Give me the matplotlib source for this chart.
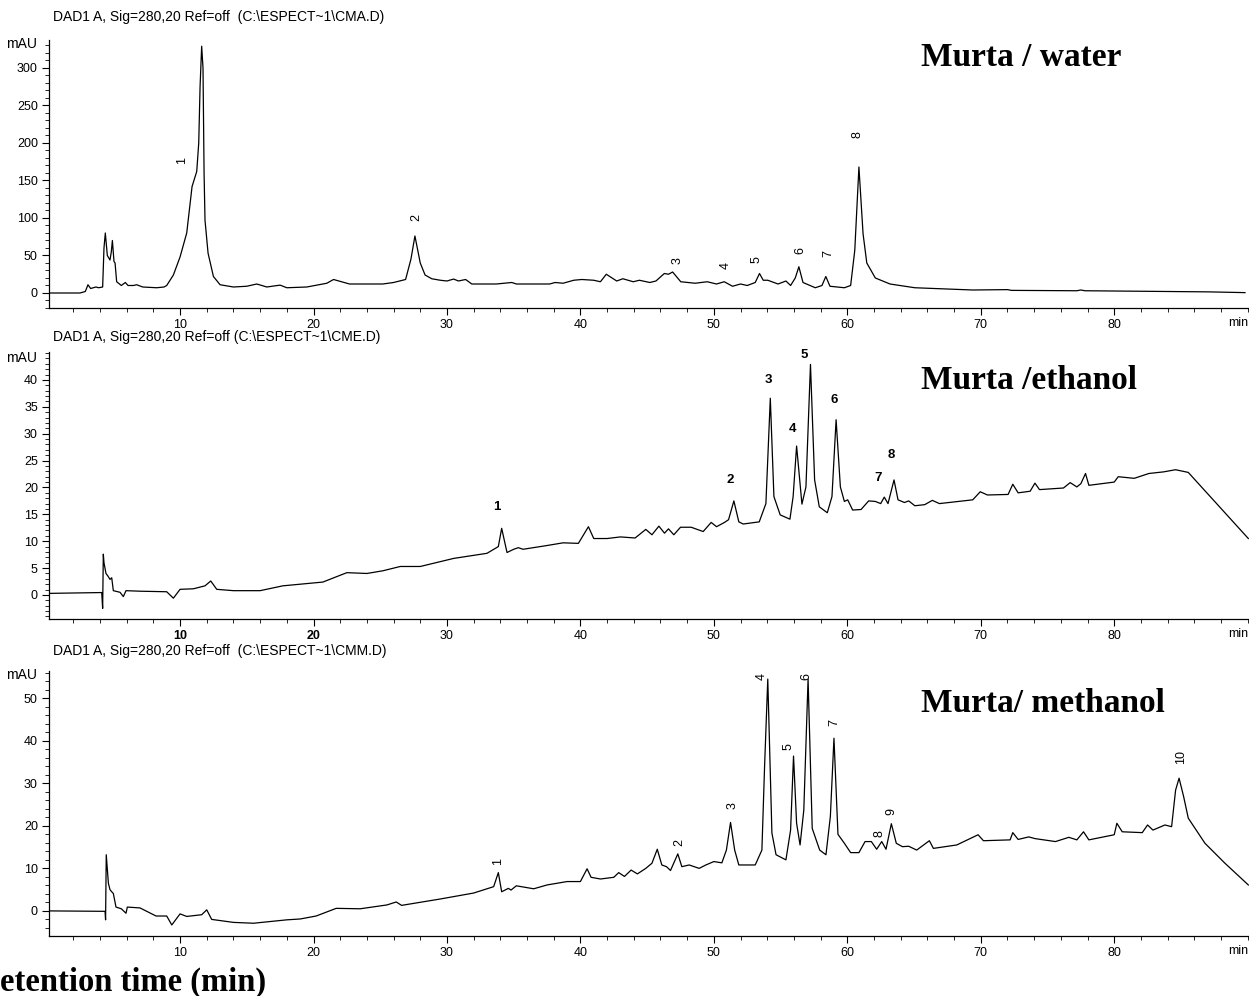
import matplotlib
matplotlib.use("Agg")
import matplotlib.pyplot as plt
from matplotlib.ticker import MultipleLocator, FixedLocator

plt.rcParams['font.family'] = ['Liberation Sans', 'DejaVu Sans']

# %% data (retention time in min, signal in mAU)
water_t = [0.25, 2.5, 2.9, 3.1, 3.3, 3.7, 3.9, 4.2, 4.3, 4.4, 4.55, 4.75, 4.85, 4.93, 5.05,
           5.13, 5.25, 5.6, 5.9, 6.1, 6.5, 6.75, 7.2, 8.25, 8.8, 9.0, 9.5, 10.0, 10.5, 10.9,
           11.25, 11.4, 11.5, 11.62, 11.72, 11.8, 11.87, 12.1, 12.5, 13.0, 14.0, 15.0, 15.75,
           16.5, 17.5, 18.0, 19.5, 21.0, 21.5, 22.7, 24.0, 25.2, 26.0, 26.9, 27.3, 27.6, 28.0,
           28.36, 28.86, 29.5, 30.0, 30.5, 30.86, 31.4, 31.86, 33.7, 34.86, 35.2, 37.7, 38.1,
           38.7, 39.5, 40.1, 41.0, 41.5, 41.94, 42.72, 43.18, 43.96, 44.42, 45.2, 45.66, 46.29,
           46.6, 46.91, 47.52, 48.6, 49.5, 50.2, 50.78, 51.4, 52.0, 52.5, 53.1, 53.42, 53.7,
           54.04, 54.81, 55.4, 55.75, 56.1, 56.37, 56.68, 57.6, 58.1, 58.39, 58.7, 59.78, 60.25,
           60.56, 60.87, 61.18, 61.46, 62.1, 63.2, 65.06, 69.4, 72.0, 72.3, 77.2, 77.5, 77.8,
           87.1, 89.8]
water_y = [0, 0, 2, 11, 6, 8, 7, 8, 60, 80, 50, 44, 55, 70, 42,
           40, 15, 10, 14, 10, 10, 11, 8, 7, 8, 10, 24, 48, 80, 142,
           162, 200, 275, 329, 300, 160, 97, 53, 22, 11, 8, 9, 12,
           8, 10.5, 7, 8, 13, 18, 12, 12, 12, 14, 18, 45, 76, 40,
           24, 19, 17, 16, 18.6, 16, 18, 12, 12, 14, 12, 12, 14,
           13, 17, 18, 17, 15, 25, 16, 19, 15, 17, 14, 16, 26,
           25, 28, 15, 13, 15, 12, 15, 9, 12, 10, 14, 26, 17,
           17, 12, 16, 10, 20, 35, 14, 7, 10, 22, 9, 7, 10,
           57, 168, 79, 40, 20, 12, 7, 4, 4.5, 3.5, 3, 4, 3,
           1.5, 0.5]

ethanol_t = [0.25, 4.13, 4.2, 4.25, 4.3, 4.45, 4.6, 4.75, 4.88, 5.0, 5.5, 5.75, 5.95, 7.0, 9.0,
             9.5, 10.0, 11.0, 11.87, 12.3, 12.75, 14.0, 16.0, 17.7, 20.7, 22.5, 24.0, 25.2, 26.5,
             28.0, 30.5, 33.0, 33.85, 34.1, 34.5, 35.0, 35.35, 35.7, 37.5, 38.7, 39.85, 40.6, 41.0,
             42.0, 43.0, 44.1, 44.9, 45.36, 45.88, 46.3, 46.6, 47.0, 47.5, 48.3, 49.2, 49.8, 50.2,
             50.8, 51.1, 51.5, 51.87, 52.2, 53.4, 53.9, 54.23, 54.5, 54.97, 55.7, 55.94, 56.2,
             56.6, 56.9, 57.24, 57.55, 57.9, 58.5, 58.85, 59.16, 59.48, 59.78, 60.03, 60.4, 61.03,
             61.6, 62.1, 62.5, 62.77, 63.05, 63.5, 63.8, 64.28, 64.6, 65.06, 65.8, 66.37, 66.9,
             69.4, 69.96, 70.5, 72.05, 72.4, 72.8, 73.7, 74.06, 74.4, 76.2, 76.7, 77.2, 77.5,
             77.85, 78.1, 80.0, 80.3, 81.5, 82.6, 83.7, 84.6, 85.55, 90.05]
ethanol_y = [0.3, 0.45, -2.5, 7.6, 6.0, 4.0, 3.5, 2.9, 3.2, 0.8, 0.5, -0.3, 0.8, 0.7, 0.6,
             -0.6, 1.05, 1.15, 1.7, 2.6, 1.05, 0.8, 0.8, 1.7, 2.4, 4.15, 4.0, 4.5, 5.3,
             5.3, 6.8, 7.75, 9.0, 12.4, 7.9, 8.5, 8.8, 8.5, 9.2, 9.7, 9.6, 12.7, 10.5,
             10.5, 10.8, 10.6, 12.2, 11.2, 12.8, 11.5, 12.3, 11.2, 12.6, 12.6, 11.8, 13.5, 12.7,
             13.5, 14, 17.5, 13.6, 13.2, 13.6, 17, 36.6, 18.3, 14.9, 14.1, 18.3, 27.7,
             16.9, 20.1, 42.9, 21.4, 16.4, 15.3, 18.3, 32.6, 20.1, 17.4, 17.7, 15.8, 15.9,
             17.5, 17.4, 17, 18.2, 17, 21.4, 17.7, 17.2, 17.5, 16.6, 16.8, 17.6, 17,
             17.7, 19.2, 18.6, 18.7, 20.6, 19, 19.3, 20.8, 19.6, 19.9, 20.9, 20.1, 20.7,
             22.6, 20.4, 21.0, 22, 21.7, 22.6, 22.9, 23.3, 22.8, 10.5]

methanol_t = [0.25, 4.38, 4.42, 4.47, 4.63, 4.75, 4.88, 5.0, 5.2, 5.6, 5.95, 6.05, 7.0, 8.2, 9.0,
              9.38, 10.0, 10.5, 11.62, 12.0, 12.37, 14.0, 15.5, 18.0, 19.0, 20.2, 21.7, 23.5,
              25.5, 26.2, 26.6, 29.5, 32.0, 33.5, 33.85, 34.1, 34.6, 34.8, 35.2, 36.5, 37.5, 39.0,
              40.0, 40.5, 40.8, 41.5, 42.5, 42.87, 43.3, 43.8, 44.27, 44.9, 45.36, 45.76, 46.1,
              46.45, 46.75, 47.3, 47.6, 48.15, 48.9, 49.4, 50.0, 50.6, 50.94, 51.25, 51.56, 51.87,
              53.1, 53.6, 53.8, 54.04, 54.35, 54.66, 55.4, 55.75, 55.97, 56.2, 56.46, 56.74, 57.06,
              57.37, 57.93, 58.4, 58.73, 59.0, 59.3, 59.78, 60.25, 60.87, 61.33, 61.8, 62.2, 62.58,
              62.9, 63.3, 63.67, 64.13, 64.6, 65.2, 66.15, 66.45, 68.2, 69.8, 70.2, 72.2, 72.4,
              72.8, 73.6, 74.06, 75.6, 76.6, 77.2, 77.7, 78.1, 80.0, 80.2, 80.6, 82.1, 82.5, 82.9,
              83.8, 84.3, 84.6, 84.86, 85.2, 85.55, 86.8, 88.3, 90.05]
methanol_y = [0, -0.1, -2.1, 13.2, 6.5, 5, 4.5, 4.1, 0.9, 0.5, -0.55, 0.9, 0.7, -1.2, -1.2,
              -3.3, -0.7, -1.3, -0.9, 0.25, -2.0, -2.7, -2.9, -2.1, -1.9, -1.2, 0.6, 0.5,
              1.4, 2.1, 1.3, 2.8, 4.2, 5.7, 9.0, 4.5, 5.3, 4.9, 5.9, 5.2, 6.1, 6.9,
              6.9, 9.9, 7.9, 7.5, 7.9, 9.0, 8.1, 9.6, 8.7, 10.0, 11.2, 14.5, 10.8,
              10.4, 9.5, 13.4, 10.4, 10.8, 10.0, 10.8, 11.6, 11.3, 14.3, 20.8, 14.3, 10.8,
              10.8, 14.3, 33.9, 54.5, 18.3, 13.2, 12.0, 19.0, 36.4, 20.6, 15.5, 23.7, 54.5,
              19.4, 14.3, 13.2, 22.2, 40.6, 18.0, 15.9, 13.7, 13.7, 16.3, 16.3, 14.5, 16.3,
              14.5, 20.5, 15.9, 15.1, 15.2, 14.3, 16.5, 14.7, 15.5, 17.9, 16.5, 16.7, 18.4,
              16.8, 17.4, 17.0, 16.3, 17.3, 16.7, 18.6, 16.7, 17.9, 20.6, 18.6, 18.4, 20.2, 19.0,
              20.2, 19.8, 28.4, 31.2, 26.9, 21.8, 15.9, 11.2, 6.1]

# peak numbers and where they were written
water_peak_labels = ['1', '2', '3', '4', '5', '6', '7', '8']
water_peak_t = [10.15, 27.7, 47.3, 50.9, 53.2, 56.5, 58.6, 60.8]
water_peak_y = [177, 100, 43, 36, 45, 57, 53, 211]

ethanol_peak_labels = ['1', '2', '3', '4', '5', '6', '7', '8']
ethanol_peak_t = [33.76, 51.2, 54.1, 55.9, 56.8, 59.0, 62.3, 63.3]
ethanol_peak_y = [16.4, 21.4, 40.0, 30.9, 44.7, 36.3, 21.8, 26.0]

methanol_peak_labels = ['1', '2', '3', '4', '5', '6', '7', '8', '9', '10']
methanol_peak_t = [33.83, 47.4, 51.4, 53.6, 55.6, 56.9, 59.0, 62.4, 63.3, 85.0]
methanol_peak_y = [11.5, 16.0, 24.7, 55.0, 38.6, 55.0, 44.2, 18.3, 23.3, 36.2]

headers = ['DAD1 A, Sig=280,20 Ref=off  (C:\\ESPECT~1\\CMA.D)',
           'DAD1 A, Sig=280,20 Ref=off (C:\\ESPECT~1\\CME.D)',
           'DAD1 A, Sig=280,20 Ref=off  (C:\\ESPECT~1\\CMM.D)']
titles = ['Murta / water', 'Murta /ethanol', 'Murta/ methanol']
x_ticks = [10, 20, 30, 40, 50, 60, 70, 80]
water_yticks = [0, 50, 100, 150, 200, 250, 300]
ethanol_yticks = [0, 5, 10, 15, 20, 25, 30, 35, 40]
methanol_yticks = [0, 10, 20, 30, 40, 50]


# %%
W, H = 1249, 996
fig = plt.figure(figsize=(W / 100, H / 100), dpi=100)


def px_box(top, bottom, left=49, right=1249):
    return [left / W, 1 - bottom / H, (right - left) / W, (bottom - top) / H]


def setup(ax, ylim, yticks, minor):
    ax.set_xlim(0.18, 90.1)
    ax.set_ylim(*ylim)
    for s in ['top', 'right']:
        ax.spines[s].set_visible(False)
    for s in ['left', 'bottom']:
        ax.spines[s].set_linewidth(0.9)
    ax.set_xticks(x_ticks)
    ax.xaxis.set_minor_locator(MultipleLocator(2))
    ax.yaxis.set_major_locator(FixedLocator(yticks))
    ax.yaxis.set_minor_locator(MultipleLocator(minor))
    ax.tick_params(which='major', direction='out', length=5, width=0.8, labelsize=9, pad=3)
    ax.tick_params(which='minor', direction='out', length=3, width=0.6)
    ax.annotate('min', xy=(89.3, 0), xycoords=('data', 'axes fraction'),
                xytext=(0, -6.6), textcoords='offset points',
                ha='center', va='top', fontsize=9)


serif_bold = dict(family='Liberation Serif', weight='bold', fontsize=24)

# water
ax1 = fig.add_axes(px_box(40, 308))
setup(ax1, (-20, 337.3), water_yticks, 10)
ax1.plot(water_t, water_y, color='black', lw=0.9)
for lab, t, y in zip(water_peak_labels, water_peak_t, water_peak_y):
    ax1.text(t, y, lab, rotation=90, ha='center', va='center', fontsize=9)

# ethanol
ax2 = fig.add_axes(px_box(352, 619))
setup(ax2, (-4.47, 45.2), ethanol_yticks, 1)
ax2.plot(ethanol_t, ethanol_y, color='black', lw=0.9)
for lab, t, y in zip(ethanol_peak_labels, ethanol_peak_t, ethanol_peak_y):
    ax2.text(t, y, lab, ha='center', va='center', fontsize=9.5, weight='bold')
for lbl in ax2.get_xticklabels()[:2]:
    lbl.set_fontweight('bold')

# methanol
ax3 = fig.add_axes(px_box(671, 936))
setup(ax3, (-5.9, 56.4), methanol_yticks, 2)
ax3.plot(methanol_t, methanol_y, color='black', lw=0.9)
for lab, t, y in zip(methanol_peak_labels, methanol_peak_t, methanol_peak_y):
    ax3.text(t, y, lab, rotation=90, ha='center', va='center', fontsize=9)

# headers, mAU and sample names
for head, hy, mau_y in zip(headers, [17, 337, 651], [44, 358, 675]):
    fig.text(53 / W, 1 - hy / H, head, ha='left', va='center', fontsize=10)
    fig.text(37 / W, 1 - mau_y / H, 'mAU', ha='right', va='center', fontsize=10)

for title, ty in zip(titles, [57, 380, 703]):
    fig.text(921 / W, 1 - ty / H, title, ha='left', va='center', **serif_bold)

fig.text(0, 1 - 982 / H, 'etention time (min)', ha='left', va='center',
         family='Liberation Serif', weight='bold', fontsize=23.5)

fig.savefig('out.png', dpi=100)
